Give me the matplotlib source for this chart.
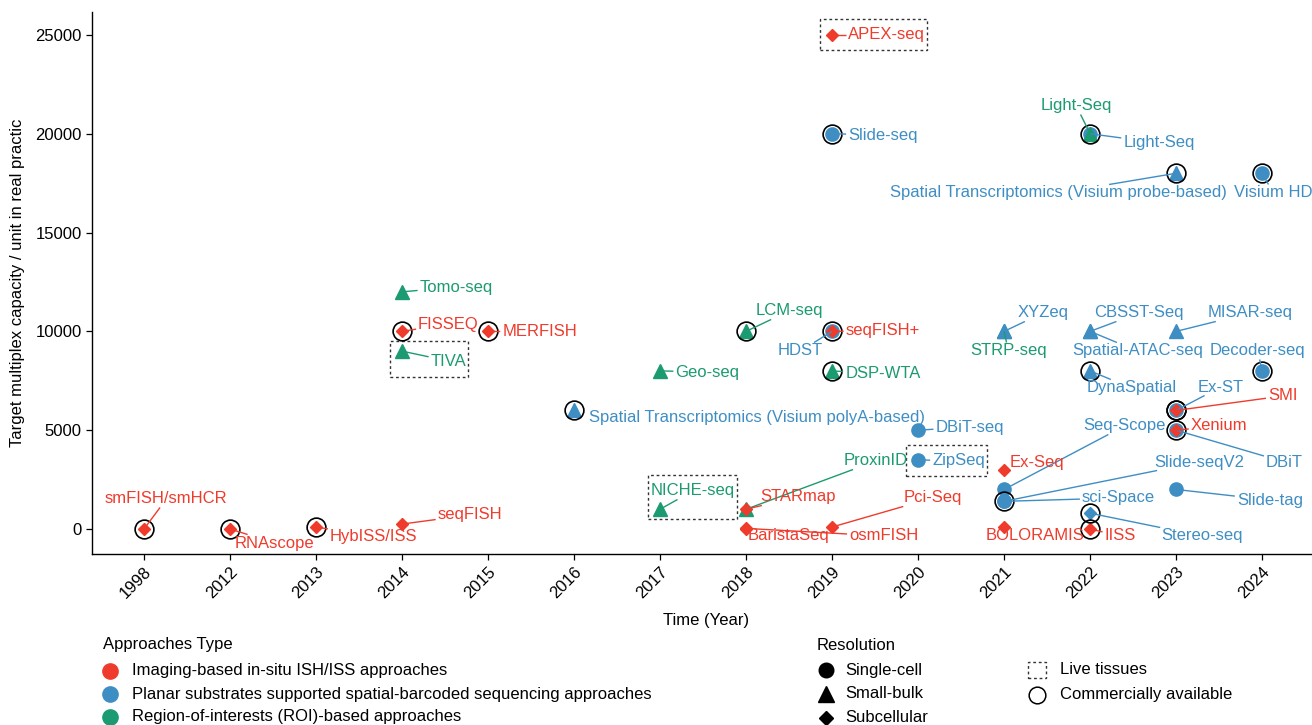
import matplotlib
matplotlib.use("Agg")
import matplotlib.pyplot as plt
from matplotlib.lines import Line2D
from matplotlib.patches import Rectangle

plt.rcParams["font.family"] = ["Liberation Sans", "DejaVu Sans"]

# -------------------------
# data
# -------------------------
year_order = ["1998", "2012", "2013", "2014", "2015", "2016", "2017", "2018",
              "2019", "2020", "2021", "2022", "2023", "2024"]

names = ["smFISH/smHCR", "RNAscope", "HybISS/ISS", "seqFISH", "FISSEQ", "MERFISH",
         "Tomo-seq", "TIVA", "Spatial Transcriptomics (Visium polyA-based)", "Geo-seq",
         "NICHE-seq", "LCM-seq", "ProxinID", "STARmap", "BaristaSeq", "osmFISH",
         "Pci-Seq", "APEX-seq", "Slide-seq", "HDST", "seqFISH+", "DSP-WTA",
         "DBiT-seq", "ZipSeq", "STRP-seq", "XYZeq", "Ex-Seq", "Seq-Scope",
         "Slide-seqV2", "sci-Space", "BOLORAMIS", "Light-Seq", "Light-Seq",
         "CBSST-Seq", "Spatial-ATAC-seq", "DynaSpatial", "Stereo-seq", "IISS",
         "Spatial Transcriptomics (Visium probe-based)", "MISAR-seq", "Ex-ST", "SMI",
         "DBiT", "Xenium", "Slide-tag", "Visium HD", "Decoder-seq"]

years = ["1998", "2012", "2013", "2014", "2014", "2015",
         "2014", "2014", "2016", "2017",
         "2017", "2018", "2018", "2018", "2018", "2018",
         "2019", "2019", "2019", "2019", "2019", "2019",
         "2020", "2020", "2021", "2021", "2021", "2021",
         "2021", "2021", "2021", "2022", "2022",
         "2022", "2022", "2022", "2022", "2022",
         "2023", "2023", "2023", "2023",
         "2023", "2023", "2023", "2024", "2024"]

values = [0, 0, 100, 250, 10000, 10000,
          12000, 9000, 6000, 8000,
          1000, 10000, 1000, 1000, 0, 30,
          100, 25000, 20000, 10000, 10000, 8000,
          5000, 3500, 10000, 10000, 3000, 2000,
          1400, 1400, 100, 20000, 20000,
          10000, 10000, 8000, 800, 0,
          18000, 10000, 6000, 6000,
          5000, 5000, 2000, 18000, 8000]

approach = ["Imaging", "Imaging", "Imaging", "Imaging", "Imaging", "Imaging",
            "ROI", "ROI", "Planar", "ROI",
            "ROI", "ROI", "ROI", "Imaging", "Imaging", "Imaging",
            "Imaging", "Imaging", "Planar", "Planar", "Imaging", "ROI",
            "Planar", "Planar", "ROI", "Planar", "Imaging", "Planar",
            "Planar", "Planar", "Imaging", "Planar", "ROI",
            "Planar", "Planar", "Planar", "Planar", "Imaging",
            "Planar", "Planar", "Planar", "Imaging",
            "Planar", "Imaging", "Planar", "Planar", "Planar"]

resolution = ["Subcellular", "Subcellular", "Subcellular", "Subcellular", "Subcellular", "Subcellular",
              "Small-bulk", "Small-bulk", "Small-bulk", "Small-bulk",
              "Small-bulk", "Small-bulk", "Small-bulk", "Subcellular", "Subcellular", "Subcellular",
              "Subcellular", "Subcellular", "Single-cell", "Single-cell", "Subcellular", "Small-bulk",
              "Single-cell", "Single-cell", "Small-bulk", "Small-bulk", "Subcellular", "Single-cell",
              "Single-cell", "Single-cell", "Subcellular", "Single-cell", "Small-bulk",
              "Small-bulk", "Small-bulk", "Small-bulk", "Subcellular", "Subcellular",
              "Small-bulk", "Small-bulk", "Single-cell", "Subcellular",
              "Single-cell", "Subcellular", "Single-cell", "Single-cell", "Single-cell"]

commercial = [1, 1, 1, 0, 1, 1,
              0, 0, 1, 0,
              0, 1, 0, 0, 0, 0,
              0, 0, 1, 0, 1, 1,
              0, 0, 0, 0, 0, 0,
              1, 0, 0, 0, 1,
              0, 0, 1, 1, 1,
              1, 0, 1, 1,
              0, 1, 0, 1, 1]

live = ["TIVA", "NICHE-seq", "APEX-seq", "ZipSeq"]

# label centres (layout only)
label_x = [0.26, 1.52, 2.67, 3.79, 3.54, 4.60,
           3.63, 3.54, 7.13, 6.55,
           6.38, 7.50, 8.51, 7.60, 7.49, 8.60,
           9.17, 8.63, 8.59, 7.63, 8.59, 8.59,
           9.60, 9.47, 10.05, 10.45, 10.38, 11.40,
           12.27, 11.33, 10.36, 11.80, 10.84,
           11.57, 11.55, 11.48, 12.30, 11.35,
           10.63, 12.86, 12.52, 13.24,
           13.26, 12.50, 13.09, 13.13, 12.95]
label_y = [1520, -710, -355, 710, 10370, 9970,
           12245, 8500, 5667, 7944,
           1923, 11031, 3441, 1620, -354, -354,
           1570, 25000, 19936, 9007, 10019, 7843,
           5161, 3441, 9007, 10930, 3390, 5212,
           3390, 1570, -304, 19532, 21404,
           10930, 9007, 7135, -354, -354,
           17002, 10930, 7185, 6730,
           3390, 5212, 1467, 17002, 9007]

colors = {"Imaging": "#EF3B2C", "Planar": "#3E8EC4", "ROI": "#1C9A72"}
shapes = {"Single-cell": ("o", 9.5), "Small-bulk": ("^", 10.5), "Subcellular": ("D", 5.8)}

# -------------------------
# plot
# -------------------------
fig = plt.figure(figsize=(13.12, 7.25), dpi=100)
ax = fig.add_axes([92 / 1312, 1 - 554 / 725, 1 - 92 / 1312, (554 - 12) / 725])

xs = [year_order.index(y) for y in years]

for i in range(len(names)):
    m, ms = shapes[resolution[i]]
    ax.plot(xs[i], values[i], marker=m, ms=ms, color=colors[approach[i]],
            mec=colors[approach[i]], ls="none", zorder=3)
for i in range(len(names)):
    if commercial[i]:
        ax.plot(xs[i], values[i], marker="o", ms=13.5, mfc="none", mec="black",
                mew=1.2, ls="none", zorder=4)

texts = []
for i in range(len(names)):
    t = ax.text(label_x[i], label_y[i], names[i], color=colors[approach[i]],
                fontsize=12, ha="center", va="center", zorder=6, clip_on=False)
    texts.append(t)

ax.set_xlim(-0.605, 13.58)
ax.set_ylim(-1265, 26160)
ax.set_xticks(range(len(year_order)))
ax.set_xticklabels(year_order, rotation=45, ha="right", va="top", rotation_mode="anchor")
ax.set_yticks([0, 5000, 10000, 15000, 20000, 25000])
ax.tick_params(labelsize=12, length=4, width=0.9, colors="black")
for s in ["top", "right"]:
    ax.spines[s].set_visible(False)
for s in ["left", "bottom"]:
    ax.spines[s].set_linewidth(1.0)

fig.text(706 / 1312, 1 - 621 / 725, "Time (Year)", ha="center", va="center", fontsize=12)
fig.text(18 / 1312, 1 - 283 / 725, "Target multiplex capacity / unit in real practic",
         rotation=90, ha="center", va="center", fontsize=12)

# segments from points to label boxes, dashed boxes for live tissues
fig.canvas.draw()
renderer = fig.canvas.get_renderer()
inv = ax.transData.inverted()
for i, t in enumerate(texts):
    bb = t.get_window_extent(renderer)
    px, py = ax.transData.transform((xs[i], values[i]))
    cx, cy = (bb.x0 + bb.x1) / 2, (bb.y0 + bb.y1) / 2
    hw, hh = bb.width / 2 + 2, bb.height / 2 + 1
    dx, dy = px - cx, py - cy
    tx = hw / abs(dx) if dx != 0 else 1e9
    ty = hh / abs(dy) if dy != 0 else 1e9
    tt = min(tx, ty)
    if tt < 0.9:
        ex, ey = cx + tt * dx, cy + tt * dy
        (x0, y0), (x1, y1) = inv.transform([(px, py), (ex, ey)])
        ax.plot([x0, x1], [y0, y1], color=colors[approach[i]], lw=1.0, zorder=5,
                solid_capstyle="butt")
    if names[i] in live:
        left = min(bb.x0, px - 9) - 3
        right = max(bb.x1, px + 9) + 2
        bottom = min(bb.y0 - 8, py - 10)
        top = max(bb.y1 + 8, py + 10)
        (a0, b0), (a1, b1) = inv.transform([(left, bottom), (right, top)])
        ax.add_patch(Rectangle((a0, b0), a1 - a0, b1 - b0, fill=False, ls=(0, (2, 2)),
                               lw=1.0, ec="#333333", zorder=2, clip_on=False))

# -------------------------
# legends
# -------------------------
def fx(p):
    return p / 1312


def fy(p):
    return 1 - p / 725


type_labels = ["Imaging-based in-situ ISH/ISS approaches",
               "Planar substrates supported spatial-barcoded sequencing approaches",
               "Region-of-interests (ROI)-based approaches"]
type_keys = ["Imaging", "Planar", "ROI"]
res_labels = ["Single-cell", "Small-bulk", "Subcellular"]
extra_labels = ["Live tissues", "Commercially available"]

fig.text(fx(103), fy(645), "Approaches Type", fontsize=12, va="center")
for k, (lab, key) in enumerate(zip(type_labels, type_keys)):
    yy = fy(671 + k * 23)
    fig.add_artist(Line2D([fx(110)], [yy], marker="o", ms=11, color=colors[key],
                          ls="none", transform=fig.transFigure))
    fig.text(fx(132), yy, lab, fontsize=12, va="center")

fig.text(fx(817), fy(645), "Resolution", fontsize=12, va="center")
for k, lab in enumerate(res_labels):
    yy = fy(670 + k * 24)
    m, ms = shapes[lab]
    fig.add_artist(Line2D([fx(826)], [yy], marker=m, ms=ms + 1, color="black",
                          ls="none", transform=fig.transFigure))
    fig.text(fx(845), yy, lab, fontsize=12, va="center")

fig.add_artist(Rectangle((fx(1028), fy(678)), 18 / 1312, 16 / 725, fill=False,
                         ls=(0, (2, 2)), lw=1.0, ec="#333333", transform=fig.transFigure))
fig.text(fx(1060), fy(670), extra_labels[0], fontsize=12, va="center")
fig.add_artist(Line2D([fx(1037)], [fy(695)], marker="o", ms=12, mfc="none", mec="black",
                      mew=1.1, ls="none", transform=fig.transFigure))
fig.text(fx(1060), fy(695), extra_labels[1], fontsize=12, va="center")

fig.savefig("out.png", dpi=100)
